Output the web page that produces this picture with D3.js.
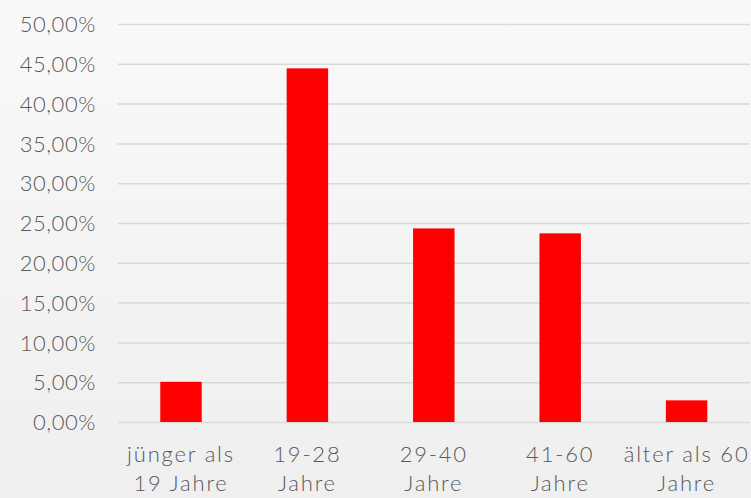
<!DOCTYPE html>
<html><head><meta charset="utf-8">
<script src="https://cdn.jsdelivr.net/npm/d3@7"></script>
<style>html,body{margin:0;padding:0;}svg{display:block;}</style>
</head><body>
<svg id="c" width="751" height="498"></svg>
<script>
const categories = [["jünger als","19 Jahre"],["19-28","Jahre"],["29-40","Jahre"],["41-60","Jahre"],["älter als 60","Jahre"]];
const values = [0.0505, 0.4443, 0.2432, 0.2370, 0.0272];
const yTicks = [0,0.05,0.10,0.15,0.20,0.25,0.30,0.35,0.40,0.45,0.50];

(function(){
const svg = d3.select("#c");
const W = 751, H = 498;
const defs = svg.append("defs");
const g0 = defs.append("linearGradient").attr("id","bg").attr("x1",0).attr("y1",0).attr("x2",0).attr("y2",1);
g0.append("stop").attr("offset","0%").attr("stop-color","#f9f9f9");
g0.append("stop").attr("offset","100%").attr("stop-color","#efefef");
svg.append("rect").attr("width",W).attr("height",H).attr("fill","url(#bg)");

const pL = 117.8, pR = 749.8, pT = 24, pB = 422;
const x = d3.scaleBand().domain(d3.range(categories.length)).range([pL,pR]).paddingInner(0.672).paddingOuter(0.336);
const y = d3.scaleLinear().domain([0,0.5]).range([pB,pT]);
const font = "Lato, 'Open Sans', sans-serif";
const fmt = v => d3.format(".2f")(v*100).replace(".",",") + "%";

const yAxis = d3.axisLeft(y).tickValues(yTicks).tickSize(-(pR-pL)).tickFormat(fmt).tickPadding(22);
const ga = svg.append("g").attr("transform",`translate(${pL},0)`).call(yAxis);
ga.select(".domain").remove();
ga.selectAll(".tick line").attr("stroke","#d9d9d9").attr("stroke-width",1.5);
ga.selectAll(".tick text").attr("fill","#595959").style("font-family",font).style("font-size","22px").style("font-weight",300).style("letter-spacing","0.5px").attr("dy","0.35em");

svg.append("g").selectAll("rect").data(values).join("rect")
  .attr("x",(d,i)=>x(i)).attr("width",x.bandwidth())
  .attr("y",d=>y(d)).attr("height",d=>pB-y(d)).attr("fill","#ff0000");

const xl = svg.append("g");
categories.forEach((c,i)=>{
  const cx = x(i)+x.bandwidth()/2;
  const t = xl.append("text").attr("x",cx).attr("y",462)
    .attr("text-anchor","middle").attr("fill","#595959").style("font-family",font).style("font-size","22px").style("font-weight",300).style("letter-spacing","1.8px");
  c.forEach((ln,j)=>t.append("tspan").attr("x",cx).attr("dy", j===0?0:29).text(ln));
});
})();
</script>
</body></html>
